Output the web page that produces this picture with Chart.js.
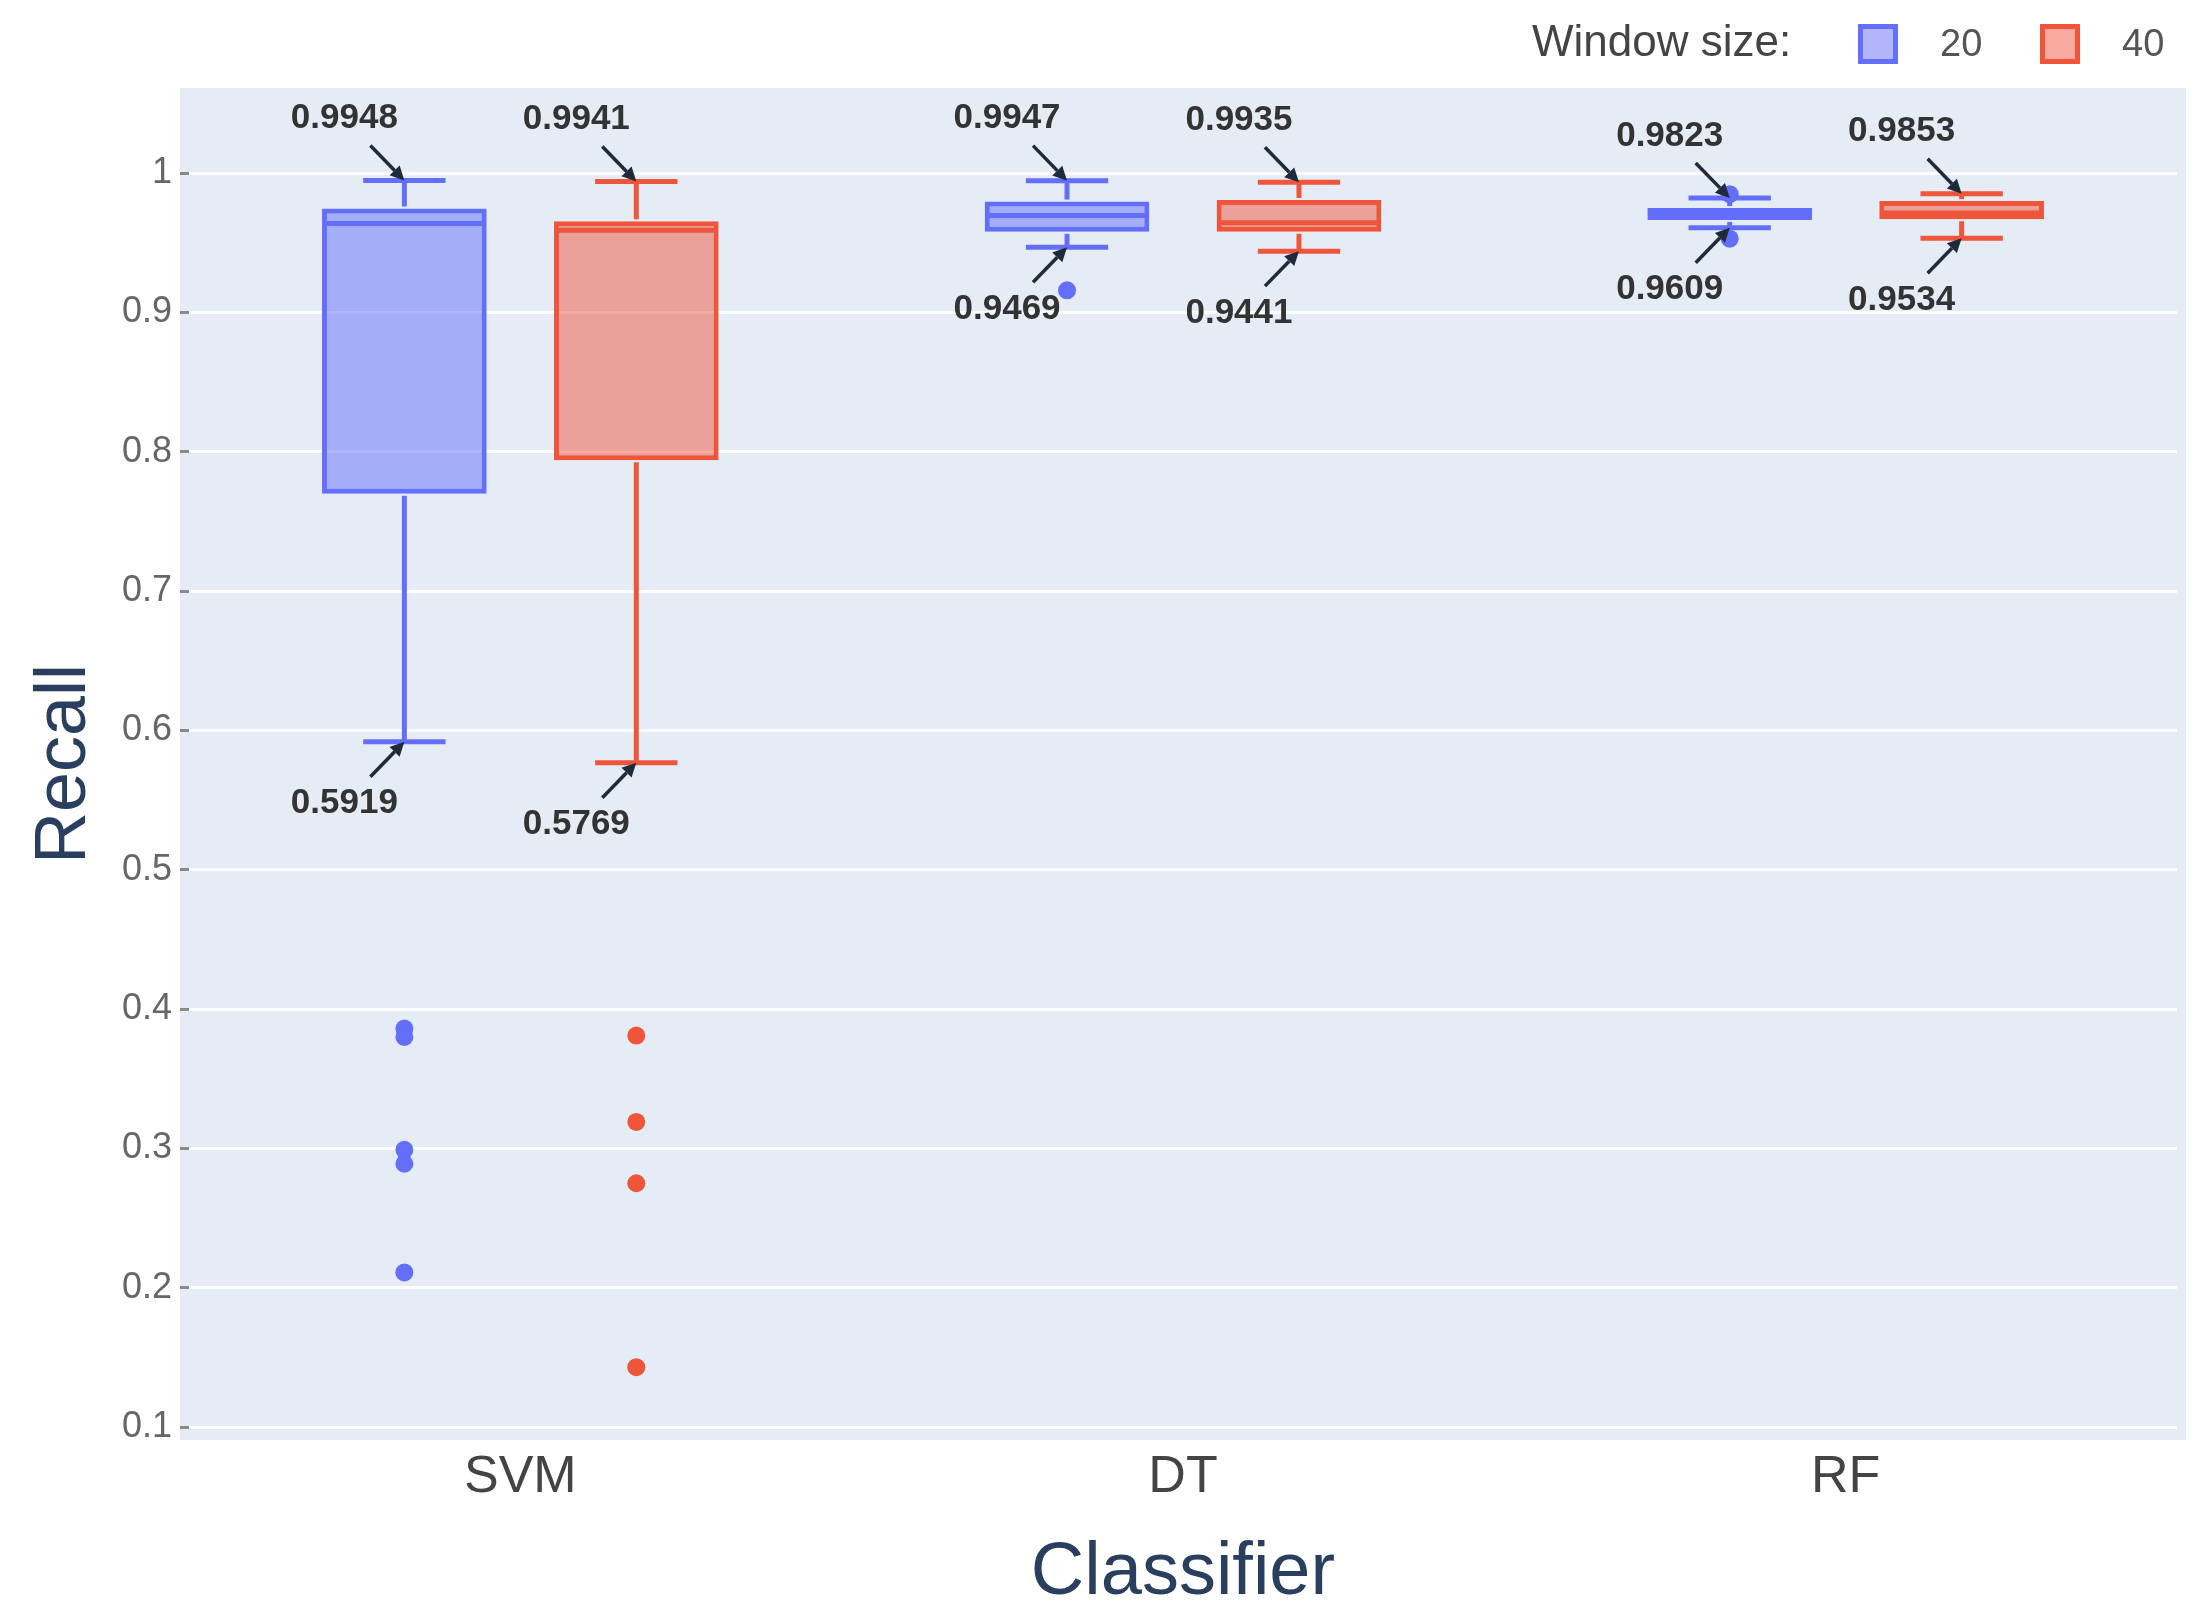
<!DOCTYPE html>
<html>
<head>
<meta charset="utf-8">
<title>Recall by classifier</title>
<script src="https://cdn.jsdelivr.net/npm/chart.js@4.4.1/dist/chart.umd.min.js"></script>
<style>
  html, body { margin: 0; padding: 0; background: #fff; }
  #wrap { width: 2211px; height: 1620px; }
</style>
</head>
<body>
<div id="wrap"><canvas id="chart" width="2211" height="1620"></canvas></div>
<script>
// categories and tick values
const categories = ['SVM', 'DT', 'RF'];
const yTicks = [0.1, 0.2, 0.3, 0.4, 0.5, 0.6, 0.7, 0.8, 0.9, 1];

// window size 20
const q1_20  = [0.770, 0.958, 0.9665];
const med_20 = [0.964, 0.9697, 0.971];
const q3_20  = [0.9747, 0.9797, 0.975];
const lo_20  = [0.5919, 0.9469, 0.9609];
const hi_20  = [0.9948, 0.9947, 0.9823];
const out_20 = [[0.386, 0.380, 0.299, 0.289, 0.211], [0.916], [0.985, 0.953]];

// window size 40
const q1_40  = [0.794, 0.958, 0.967];
const med_40 = [0.959, 0.9645, 0.9715];
const q3_40  = [0.9655, 0.9808, 0.980];
const lo_40  = [0.5769, 0.9441, 0.9534];
const hi_40  = [0.9941, 0.9935, 0.9853];
const out_40 = [[0.381, 0.319, 0.275, 0.143], [], []];

const FONT = "'Liberation Sans', Arial, sans-serif";
const LW = 5;

function line(ctx, x0, y0, x1, y1) {
  ctx.beginPath();
  ctx.moveTo(x0, y0);
  ctx.lineTo(x1, y1);
  ctx.stroke();
}

// arrow pointing at (x, y) with the value written beyond its tail
function annotate(ctx, x, y, text, dir) {
  const tx = x - 34, ty = y + dir * 35;
  const ang = Math.atan2(y - ty, x - tx);
  const hl = 14, hw = 7;
  ctx.strokeStyle = '#1f2a3a';
  ctx.fillStyle = '#1f2a3a';
  ctx.lineWidth = 3.5;
  line(ctx, tx, ty, x - Math.cos(ang) * hl, y - Math.sin(ang) * hl);
  ctx.beginPath();
  ctx.moveTo(x, y);
  ctx.lineTo(x - Math.cos(ang) * hl + Math.sin(ang) * hw, y - Math.sin(ang) * hl - Math.cos(ang) * hw);
  ctx.lineTo(x - Math.cos(ang) * hl - Math.sin(ang) * hw, y - Math.sin(ang) * hl + Math.cos(ang) * hw);
  ctx.closePath();
  ctx.fill();
  ctx.fillStyle = '#333';
  ctx.font = `bold 35px ${FONT}`;
  ctx.textAlign = 'center';
  ctx.textBaseline = 'middle';
  ctx.fillText(text, x - 60, y + dir * 62);
}

const plotBg = {
  id: 'plotBg',
  beforeDraw(chart) {
    const {ctx, chartArea: a} = chart;
    ctx.save();
    ctx.fillStyle = '#e5ecf6';
    ctx.fillRect(a.left - 9, a.top, a.right - a.left + 18, a.bottom - a.top);
    ctx.restore();
  }
};

// medians, whiskers, outliers and the whisker labels
const boxParts = {
  id: 'boxParts',
  afterDatasetsDraw(chart) {
    const ctx = chart.ctx, y = chart.scales.y;
    chart.data.datasets.forEach((ds, di) => {
      const meta = chart.getDatasetMeta(di);
      meta.data.forEach((bar, i) => {
        const x = bar.x, w = bar.width;
        const [q1, q3] = ds.data[i];
        ctx.save();
        ctx.strokeStyle = ds.borderColor;
        ctx.lineWidth = LW;
        const pm = y.getPixelForValue(ds.med[i]);
        line(ctx, x - w / 2 + 2, pm, x + w / 2 - 2, pm);
        const ph = y.getPixelForValue(ds.hi[i]), pl = y.getPixelForValue(ds.lo[i]);
        line(ctx, x, y.getPixelForValue(q3) - 2, x, ph);
        line(ctx, x, y.getPixelForValue(q1) + 2, x, pl);
        line(ctx, x - w / 4, ph, x + w / 4, ph);
        line(ctx, x - w / 4, pl, x + w / 4, pl);
        ctx.fillStyle = ds.borderColor;
        ds.out[i].forEach(v => {
          ctx.beginPath();
          ctx.arc(x, y.getPixelForValue(v), 9, 0, Math.PI * 2);
          ctx.fill();
        });
        annotate(ctx, x, ph, ds.hi[i].toFixed(4), -1);
        annotate(ctx, x, pl, ds.lo[i].toFixed(4), 1);
        ctx.restore();
      });
    });
  }
};

const legendRow = {
  id: 'legendRow',
  afterDraw(chart) {
    const ctx = chart.ctx;
    ctx.save();
    ctx.textBaseline = 'middle';
    ctx.textAlign = 'left';
    ctx.font = `44px ${FONT}`;
    ctx.fillStyle = '#444';
    ctx.fillText('Window size:', 1532, 44);
    const itemX = [1858, 2040];
    chart.data.datasets.forEach((ds, i) => {
      ctx.fillStyle = ds.backgroundColor;
      ctx.fillRect(itemX[i], 24, 40, 40);
      ctx.strokeStyle = ds.borderColor;
      ctx.lineWidth = LW;
      ctx.strokeRect(itemX[i] + 2.5, 26.5, 35, 35);
      ctx.fillStyle = '#555';
      ctx.font = `38px ${FONT}`;
      ctx.fillText(ds.label, itemX[i] + 82, 46);
    });
    ctx.restore();
  }
};

new Chart(document.getElementById('chart'), {
  type: 'bar',
  data: {
    labels: categories,
    datasets: [{
      label: '20',
      data: categories.map((c, i) => [q1_20[i], q3_20[i]]),
      med: med_20, lo: lo_20, hi: hi_20, out: out_20,
      backgroundColor: 'rgba(99,110,250,0.5)',
      borderColor: '#636efa',
      borderWidth: LW,
      borderSkipped: false,
      categoryPercentage: 0.7,
      barPercentage: 0.71
    }, {
      label: '40',
      data: categories.map((c, i) => [q1_40[i], q3_40[i]]),
      med: med_40, lo: lo_40, hi: hi_40, out: out_40,
      backgroundColor: 'rgba(239,85,59,0.5)',
      borderColor: '#ef553b',
      borderWidth: LW,
      borderSkipped: false,
      categoryPercentage: 0.7,
      barPercentage: 0.71
    }]
  },
  options: {
    responsive: false,
    devicePixelRatio: 1,
    animation: false,
    layout: { padding: { top: 88, right: 34, left: 0, bottom: 0 } },
    plugins: { legend: { display: false }, tooltip: { enabled: false } },
    scales: {
      x: {
        grid: { display: false, drawTicks: false },
        border: { display: false },
        ticks: { font: { size: 52, family: FONT }, color: '#444', padding: 6 },
        title: { display: true, text: 'Classifier', color: '#2a3f5f',
                 font: { size: 74, family: FONT }, padding: { top: 0, bottom: 2 } },
        afterFit: s => { s.height = 180; }
      },
      y: {
        min: 0.0907,
        max: 1.0612,
        afterBuildTicks: s => { s.ticks = yTicks.map(v => ({ value: v })); },
        grid: { color: '#ffffff', lineWidth: 3, tickColor: '#8a8a8a', tickLength: 9, tickWidth: 3 },
        border: { display: false },
        ticks: { font: { size: 36, family: FONT }, color: '#666', padding: 8,
                 callback: v => v === 1 ? '1' : v.toFixed(1) },
        title: { display: true, text: 'Recall', color: '#2a3f5f',
                 font: { size: 72, family: FONT }, padding: { top: 22, bottom: 0 } },
        afterFit: s => { s.width = 189; }
      }
    }
  },
  plugins: [plotBg, boxParts, legendRow]
});
</script>
</body>
</html>
